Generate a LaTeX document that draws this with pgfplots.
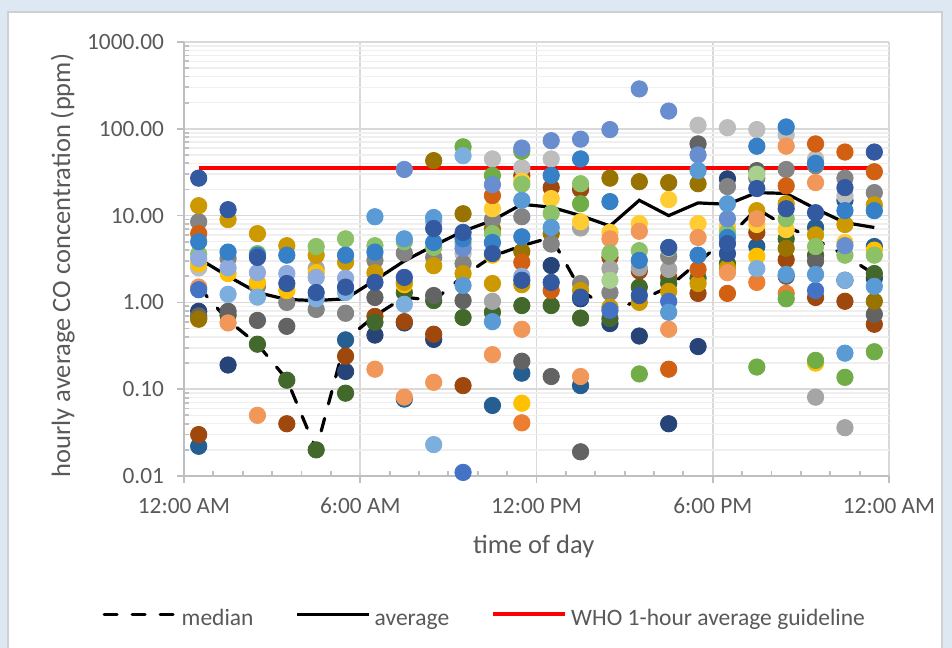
\documentclass[border=0pt]{standalone}
\usepackage{fontspec}
\setmainfont{Carlito}
\usepackage{pgfplots}
\pgfplotsset{compat=1.18}
\definecolor{bgblue}{HTML}{DEE8F3}
\definecolor{framegray}{HTML}{D0D0D0}
\definecolor{txtgray}{HTML}{595959}
\definecolor{gridmajor}{HTML}{D9D9D9}
\definecolor{gridminor}{HTML}{EFEFEF}
\definecolor{axisgray}{HTML}{BFBFBF}
\definecolor{cnavy}{HTML}{264478}
\definecolor{cteal}{HTML}{255E91}
\definecolor{cbrown}{HTML}{9E480E}
\definecolor{cdkgreen}{HTML}{43682B}
\definecolor{cdkgray}{HTML}{636363}
\definecolor{colive}{HTML}{997300}
\definecolor{cgray}{HTML}{848484}
\definecolor{cgrayb}{HTML}{A5A5A5}
\definecolor{cltgray}{HTML}{BDBDBD}
\definecolor{cgold}{HTML}{CC9A00}
\definecolor{cyellow}{HTML}{FFC000}
\definecolor{cyellowb}{HTML}{FFCD33}
\definecolor{corange}{HTML}{D26012}
\definecolor{corangeb}{HTML}{ED7D31}
\definecolor{cltorange}{HTML}{F1975A}
\definecolor{cgreen}{HTML}{70AD47}
\definecolor{cltgreen}{HTML}{8CC168}
\definecolor{cltgreenb}{HTML}{A9D18E}
\definecolor{cviolet}{HTML}{698ED0}
\definecolor{cvioletb}{HTML}{8FAADC}
\definecolor{cmedblue}{HTML}{3580C6}
\definecolor{cblue}{HTML}{4472C4}
\definecolor{cdkblue}{HTML}{335AA1}
\definecolor{cdkblueb}{HTML}{2F5597}
\definecolor{cltblue}{HTML}{5B9BD5}
\definecolor{cltblueb}{HTML}{7CAFDD}
\newcommand{\dotser}[2]{\addplot[only marks, mark=*, mark size=4.1bp, color=#1, mark options={draw=none, fill=#1}, forget plot] coordinates {#2};}
\begin{document}
\begin{tikzpicture}
\useasboundingbox (0,0) rectangle (476bp,324bp);
\fill[bgblue] (0,0) rectangle (476bp,324bp);
\filldraw[fill=white, draw=framegray, line width=0.75bp] (4bp,-2bp) rectangle (471bp,318bp);
\begin{axis}[
  at={(92bp,86bp)}, anchor=south west,
  scale only axis, width=352.5bp, height=217bp,
  xmin=0, xmax=24, ymin=0.01, ymax=1000, ymode=log,
  xtick={0,6,12,18,24},
  xticklabels={12:00 AM,6:00 AM,12:00 PM,6:00 PM,12:00 AM},
  minor xtick={1,2,3,4,5,7,8,9,10,11,13,14,15,16,17,19,20,21,22,23},
  ytick={0.01,0.1,1,10,100,1000},
  yticklabels={0.01,0.10,1.00,10.00,100.00,1000.00},
  minor ytick={0.02,0.03,0.04,0.05,0.06,0.07,0.08,0.09,0.2,0.3,0.4,0.5,0.6,0.7,0.8,0.9,2,3,4,5,6,7,8,9,20,30,40,50,60,70,80,90,200,300,400,500,600,700,800,900},
  axis x line*=bottom, axis y line*=left,
  axis line style={draw=axisgray, line width=1bp},
  xmajorgrids, ymajorgrids, yminorgrids,
  major grid style={draw=gridmajor, line width=0.9bp},
  minor grid style={draw=gridminor, line width=0.75bp},
  tick align=outside,
  major tick length=3.5bp, minor tick length=2.5bp,
  tick style={draw=axisgray, line width=0.9bp},
  minor x tick style={yshift=2.5bp},
  minor y tick style={xshift=2.5bp},
  tick label style={font=\fontsize{11.7}{14}\selectfont, text=txtgray},
  xticklabel style={yshift=-4bp},
  yticklabel style={xshift=-3bp},
  every axis x label/.style={at={(axis description cs:0.496,-0.163)}, anchor=center},
  every axis y label/.style={at={(axis description cs:-0.172,0.485)}, anchor=center, rotate=90},
  label style={font=\fontsize{13.3}{16}\selectfont, text=txtgray},
  xlabel={time of day},
  ylabel={hourly average CO concentration (ppm)},
  legend style={at={(axis description cs:0.428,-0.332)}, anchor=center, draw=none, fill=none,
    font=\fontsize{11.8}{14}\selectfont, text=txtgray,
    nodes={text height=0.72em, text depth=0.22em},
    /tikz/every even column/.append style={column sep=19bp}},
  legend columns=3,
  legend image code/.code={\draw[#1] (0bp,0.3em) -- (36bp,0.3em);},
  clip=false
]
\addplot[black, line width=1.6bp, dash pattern=on 6.5bp off 7.5bp, line cap=round] coordinates {
(0.5,1.5)(1.5,0.62)(2.5,0.33)(3.5,0.13)(4.5,0.02)(5.5,0.37)(6.5,0.7)(7.5,1.15)(8.5,1.05)(9.5,2.0)(10.5,3.4)(11.5,4.5)(12.5,5.6)(13.5,1.4)(14.5,0.8)(15.5,1.05)(16.5,1.5)(17.5,2.9)(18.5,5.5)(19.5,12)(20.5,7.5)(21.5,5.3)(22.5,3.5)(23.5,2.1)};
\addlegendentry{median}
\addplot[black, line width=1.6bp] coordinates {
(0.5,3.2)(1.5,2.0)(2.5,1.3)(3.5,1.08)(4.5,1.05)(5.5,1.1)(6.5,1.8)(7.5,3.0)(8.5,4.5)(9.5,6.6)(10.5,8.8)(11.5,13.5)(12.5,12.5)(13.5,10)(14.5,7.6)(15.5,15)(16.5,10)(17.5,14)(18.5,13.5)(19.5,18.4)(20.5,18)(21.5,12)(22.5,8.3)(23.5,7.3)};
\addlegendentry{average}
\addplot[red, line width=2bp] coordinates {(0.5,35)(23.5,35)};
\addlegendentry{WHO 1-hour average guideline}
\dotser{cnavy}{(0.5,0.79)(1.5,0.19)(5.5,0.16)(6.5,0.42)(7.5,0.58)(8.5,0.375)(12.5,2.66)(13.5,1.1)(14.5,0.57)(15.5,0.41)(16.5,0.04)(17.5,0.31)(18.5,26.5)(22.5,1.8)(23.5,1.9)}
\dotser{cteal}{(0.5,0.022)(5.5,0.37)(7.5,0.077)(10.5,0.065)(11.5,0.153)(13.5,0.11)(19.5,4.4)(21.5,7.3)(22.5,15)(23.5,4.4)}
\dotser{cbrown}{(0.5,0.03)(3.5,0.04)(5.5,0.24)(6.5,0.69)(7.5,0.6)(8.5,0.43)(9.5,0.11)(11.5,29)(12.5,21)(13.5,20)(14.5,3.3)(15.5,2.3)(16.5,1.94)(17.5,1.27)(19.5,6.4)(20.5,3.1)(21.5,1.14)(22.5,1.03)(23.5,0.56)}
\dotser{cdkgreen}{(0.5,0.66)(1.5,0.71)(2.5,0.33)(3.5,0.127)(4.5,0.02)(5.5,0.09)(6.5,0.59)(7.5,1.3)(8.5,1.05)(9.5,0.67)(10.5,0.77)(11.5,0.92)(12.5,0.92)(13.5,0.66)(14.5,0.65)(15.5,1.5)(16.5,1.65)(17.5,1.9)(18.5,2.8)(20.5,5.4)(21.5,3.5)(23.5,2.15)}
\dotser{cdkgray}{(0.5,0.7)(1.5,0.79)(2.5,0.62)(3.5,0.53)(6.5,1.14)(8.5,1.2)(9.5,1.05)(11.5,0.21)(12.5,0.14)(13.5,0.019)(17.5,67)(19.5,33)(20.5,2.0)(21.5,3.0)(23.5,0.73)}
\dotser{colive}{(0.5,0.64)(8.5,43)(9.5,10.5)(10.5,7)(11.5,3.85)(12.5,6.2)(14.5,27)(15.5,24.6)(16.5,24)(17.5,23.3)(20.5,4.2)(23.5,1.03)}
\dotser{cgrayb}{(4.5,2.45)(10.5,1.03)(13.5,7.2)(14.5,2.45)(15.5,2.5)(16.5,2.4)(21.5,0.081)(22.5,0.036)}
\dotser{cltgray}{(0.5,2.5)(9.5,3.65)(10.5,45)(11.5,35.6)(12.5,45)(17.5,110)(18.5,103)(19.5,98)(20.5,85)(21.5,45)(22.5,17)}
\dotser{cgray}{(0.5,8.5)(1.5,3.2)(2.5,1.53)(3.5,1.0)(4.5,0.83)(5.5,0.75)(6.5,3.05)(7.5,3.7)(8.5,3.3)(9.5,2.8)(10.5,9)(11.5,9.7)(12.5,4.7)(13.5,1.65)(14.5,1.3)(16.5,3.4)(18.5,21.6)(19.5,27)(20.5,34)(21.5,37.5)(22.5,27)(23.5,18.4)}
\dotser{cyellow}{(0.5,2.8)(1.5,2.15)(2.5,1.7)(3.5,1.37)(4.5,2.2)(7.5,1.6)(10.5,3.5)(11.5,0.069)(19.5,3.4)(21.5,0.2)(23.5,4.0)}
\dotser{cyellowb}{(10.5,12)(11.5,25)(12.5,15.7)(13.5,8.5)(14.5,6.4)(15.5,8.1)(16.5,15.3)(17.5,8.1)(18.5,7.5)(19.5,7.9)(20.5,6.9)(22.5,4.9)}
\dotser{cgold}{(0.5,13)(1.5,9.0)(2.5,6.2)(3.5,4.5)(4.5,3.5)(5.5,2.9)(6.5,2.2)(7.5,1.7)(8.5,2.65)(9.5,2.15)(10.5,1.65)(11.5,1.6)(13.5,1.37)(14.5,0.88)(15.5,1.0)(16.5,1.34)(17.5,1.65)(18.5,2.5)(19.5,11.4)(20.5,13.7)(21.5,6.0)(22.5,7.9)(23.5,13.3)}
\dotser{corangeb}{(11.5,0.041)(19.5,1.7)(20.5,1.27)}
\dotser{cltorange}{(0.5,1.5)(1.5,0.58)(2.5,0.05)(6.5,0.17)(7.5,0.081)(8.5,0.12)(10.5,0.25)(11.5,0.49)(13.5,0.14)(14.5,5.4)(15.5,6.6)(16.5,0.49)(17.5,5.6)(18.5,2.2)(19.5,9.2)(20.5,63)(21.5,24)}
\dotser{corange}{(0.5,6.2)(10.5,17)(11.5,2.9)(12.5,1.37)(16.5,0.17)(17.5,2.4)(18.5,1.27)(20.5,22)(21.5,67)(22.5,54)(23.5,32)}
\dotser{cltgreenb}{(14.5,1.8)(16.5,4.2)(19.5,30)}
\dotser{cltgreen}{(0.5,3.6)(2.5,3.65)(4.5,4.4)(5.5,5.4)(6.5,4.5)(7.5,5)(8.5,4.3)(9.5,4.8)(10.5,6.2)(11.5,23)(12.5,10.6)(13.5,23.3)(14.5,3.7)(15.5,3.95)(18.5,6.4)(20.5,9.2)(21.5,4.4)(22.5,3.5)(23.5,3.5)}
\dotser{cgreen}{(9.5,62)(10.5,29)(11.5,55)(13.5,13.7)(15.5,0.15)(19.5,0.18)(20.5,1.1)(21.5,0.215)(22.5,0.137)(23.5,0.27)}
\dotser{cvioletb}{(0.5,3.2)(1.5,2.5)(2.5,2.2)(3.5,2.15)(4.5,1.94)(5.5,1.9)(8.5,8.5)(11.5,2.0)}
\dotser{cviolet}{(7.5,34)(9.5,4.2)(10.5,22.7)(11.5,60)(12.5,73)(13.5,76)(14.5,98)(15.5,288)(16.5,160)(17.5,50)(18.5,9.2)(22.5,4.5)}
\dotser{cblue}{(0.5,1.4)(9.5,0.011)(14.5,0.81)(16.5,1.03)(21.5,1.37)}
\dotser{cltblueb}{(1.5,1.24)(2.5,1.15)(4.5,1.1)(5.5,1.3)(7.5,0.95)(8.5,0.023)(9.5,49)(19.5,2.45)(22.5,1.8)}
\dotser{cltblue}{(6.5,9.7)(7.5,5.4)(8.5,9.5)(9.5,1.57)(10.5,0.6)(11.5,15)(12.5,7.3)(16.5,0.77)(17.5,33)(18.5,13.7)(20.5,2.1)(21.5,2.1)(22.5,0.26)(23.5,1.53)}
\dotser{cmedblue}{(0.5,5.0)(1.5,3.8)(2.5,3.5)(3.5,3.5)(5.5,3.5)(6.5,3.8)(8.5,4.9)(9.5,5.4)(10.5,4.9)(11.5,5.7)(12.5,29)(13.5,45)(14.5,14.5)(15.5,3.05)(17.5,3.5)(18.5,5.6)(19.5,63)(20.5,105)(21.5,40)(22.5,11.4)(23.5,11.4)}
\dotser{cdkblueb}{(18.5,3.65)}
\dotser{cdkblue}{(0.5,27)(1.5,11.7)(2.5,3.3)(3.5,1.65)(4.5,1.3)(5.5,1.5)(6.5,1.7)(7.5,1.94)(8.5,7.1)(9.5,6.4)(10.5,3.65)(11.5,1.8)(12.5,1.7)(13.5,1.15)(15.5,1.2)(16.5,4.3)(18.5,4.75)(19.5,20.5)(20.5,12)(21.5,10.8)(22.5,21)(23.5,54)}
\end{axis}
\end{tikzpicture}
\end{document}
